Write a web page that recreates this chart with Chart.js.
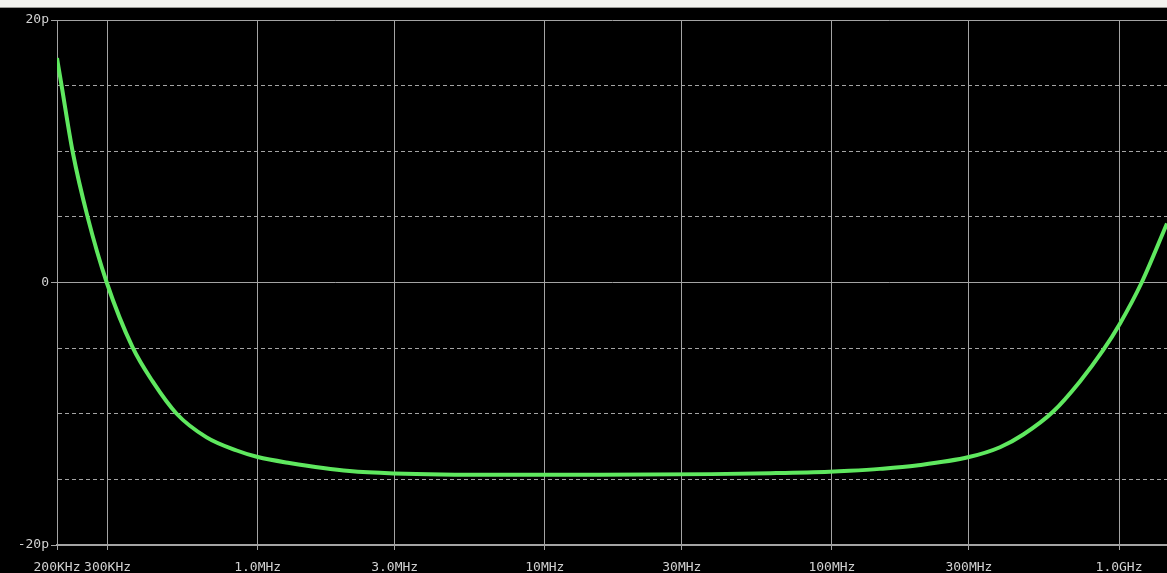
<!DOCTYPE html>
<html>
<head>
<meta charset="utf-8">
<script src="https://cdn.jsdelivr.net/npm/chart.js@4.4.1/dist/chart.umd.min.js"></script>
<style>
html, body { margin: 0; padding: 0; background: #000; width: 1167px; height: 573px; overflow: hidden; }
#bar { height: 7px; background: #f2f2ee; border-bottom: 1px solid #9a9a96; }
#wrap { position: absolute; left: 0; top: 8px; width: 1167px; height: 572px; }
</style>
</head>
<body>
<div id="bar"></div>
<div id="wrap"><canvas id="chart"></canvas></div>
<script>
// frequency (Hz) and value (p)
const freq = [200e3, 207.5e3, 226.6e3, 255.6e3, 298e3, 366.8e3, 430.6e3, 522e3, 664e3, 845e3,
    1.0e6, 1.29e6, 2.09e6, 3.0e6, 7.0e6, 15.5e6, 38e6, 61e6, 98e6, 115e6, 147e6,
    197e6, 300e6, 385e6, 464e6, 590e6, 731e6, 879e6, 1008e6, 1199e6, 1469e6];
const cap = [17.1, 15.0, 10.0, 5.0, 0.0, -4.95, -7.54, -10.0, -11.8, -12.8,
    -13.3, -13.75, -14.37, -14.55, -14.65, -14.65, -14.6, -14.53, -14.42, -14.35, -14.2,
    -13.94, -13.3, -12.55, -11.58, -9.83, -7.54, -5.18, -3.12, 0.0, 4.5];

const xTicks = [200e3, 300e3, 1e6, 3e6, 10e6, 30e6, 100e6, 300e6, 1e9];
const xLabels = ['200KHz', '300KHz', '1.0MHz', '3.0MHz', '10MHz', '30MHz', '100MHz', '300MHz', '1.0GHz'];
const yTickVals = [20, 0, -20];
const yTickText = ['20p', '0', '-20p'];

const gridCol = '#a4a4a4';
const textCol = '#d2d2d2';
const font = { family: 'DejaVu Sans Mono', size: 13 };

const ctx = document.getElementById('chart').getContext('2d');

new Chart(ctx, {
    type: 'scatter',
    data: {
        datasets: [{
            data: freq.map((f, i) => ({ x: f, y: cap[i] })),
            showLine: true,
            borderColor: '#5fe85f',
            borderWidth: 4,
            pointRadius: 0,
            cubicInterpolationMode: 'monotone'
        }]
    },
    options: {
        responsive: true,
        maintainAspectRatio: false,
        animation: false,
        layout: { padding: { top: 12, left: 0, right: 0, bottom: 0 } },
        plugins: { legend: { display: false }, tooltip: { enabled: false } },
        scales: {
            x: {
                type: 'logarithmic',
                min: 200e3,
                max: 1.469e9,
                afterBuildTicks: s => { s.ticks = xTicks.map(v => ({ value: v })); },
                afterFit: s => { s.height = 35; },
                ticks: {
                    autoSkip: false, maxRotation: 0, minRotation: 0,
                    color: textCol, font: font, padding: 10,
                    callback: (v, i) => xLabels[i]
                },
                grid: { color: gridCol, lineWidth: 1, tickLength: 5, tickColor: gridCol },
                border: { color: gridCol, width: 2 }
            },
            y: {
                min: -20,
                max: 20,
                afterFit: s => { s.width = 57; },
                ticks: {
                    stepSize: 5, color: textCol, font: font, padding: 2,
                    callback: v => { const k = yTickVals.indexOf(v); return k < 0 ? '' : yTickText[k]; }
                },
                grid: {
                    color: gridCol, lineWidth: 1, tickLength: 6,
                    tickColor: c => (c.tick && yTickVals.indexOf(c.tick.value) >= 0) ? gridCol : 'rgba(0,0,0,0)'
                },
                border: {
                    color: gridCol, width: 1,
                    dash: c => (c.tick && yTickVals.indexOf(c.tick.value) < 0) ? [4, 3] : []
                }
            }
        }
    }
});
</script>
</body>
</html>
